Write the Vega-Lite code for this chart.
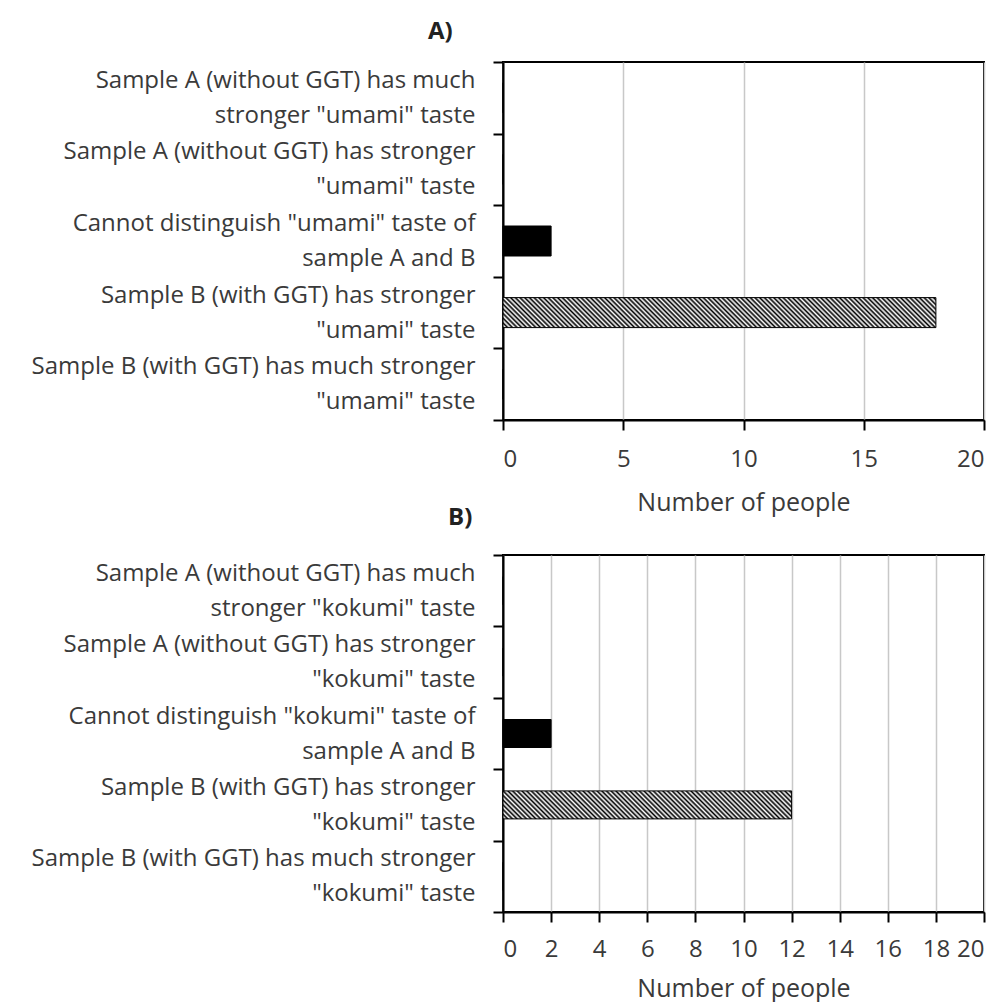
{
  "$schema": "https://vega.github.io/schema/vega-lite/v6.json",
  "background": "white",
  "padding": {"left": 30, "top": 19, "right": 5, "bottom": 0},
  "bounds": "flush",
  "spacing": 135,
  "config": {
    "font": "Open Sans",
    "view": {"stroke": "#000", "strokeWidth": 2},
    "axis": {
      "labelFont": "Open Sans", "labelFontSize": 24, "labelColor": "#3a3a3a",
      "titleFont": "Open Sans", "titleFontSize": 25, "titleFontWeight": "normal", "titleColor": "#3a3a3a",
      "domainColor": "#000", "domainWidth": 2, "tickColor": "#000", "tickWidth": 2, "tickSize": 10
    },
    "title": {"font": "Open Sans", "fontSize": 24, "fontWeight": "bold", "color": "#222"}
  },
  "vconcat": [
    {
      "width": 481, "height": 358,
      "title": {"text": "A)", "anchor": "start", "frame": "group", "dx": -75, "offset": 6},
      "data": {"values": [
        {"response": "Sample A (without GGT) has much|stronger \"umami\" taste", "people": 0},
        {"response": "Sample A (without GGT) has stronger|\"umami\" taste", "people": 0},
        {"response": "Cannot distinguish \"umami\" taste of|sample A and B", "people": 2},
        {"response": "Sample B (with GGT) has stronger|\"umami\" taste", "people": 18},
        {"response": "Sample B (with GGT) has much stronger|\"umami\" taste", "people": 0}
      ]},
      "mark": {"type": "bar", "height": 30, "stroke": "#000", "strokeWidth": 1},
      "encoding": {
        "y": {"field": "response", "type": "nominal", "sort": null,
          "scale": {"paddingInner": 0, "paddingOuter": 0},
          "axis": {"title": null, "labelExpr": "split(datum.label, '|')", "labelLineHeight": 35, "labelOffset": -17.5, "tickBand": "extent", "labelPadding": 18, "labelLimit": 600}},
        "x": {"field": "people", "type": "quantitative",
          "scale": {"domain": [0, 20], "nice": false},
          "axis": {"values": [0, 5, 10, 15, 20], "title": "Number of people", "grid": true, "gridColor": "#c8c8c8", "gridWidth": 1.5, "labelPadding": 17, "titlePadding": 19}},
        "fill": {
          "condition": {"test": "indexof(datum.response, 'Sample B (with GGT) has stronger') === 0",
            "value": {"gradient": "linear", "x1": 0, "y1": 1, "x2": 1.0803, "y2": 0.9252, "stops": [
{"offset":0,"color":"#000"},{"offset":0.005,"color":"#fff"},{"offset":0.01,"color":"#000"},{"offset":0.015,"color":"#fff"},{"offset":0.02,"color":"#000"},{"offset":0.025,"color":"#fff"},{"offset":0.03,"color":"#000"},{"offset":0.035,"color":"#fff"},{"offset":0.04,"color":"#000"},{"offset":0.045,"color":"#fff"},
{"offset":0.05,"color":"#000"},{"offset":0.055,"color":"#fff"},{"offset":0.06,"color":"#000"},{"offset":0.065,"color":"#fff"},{"offset":0.07,"color":"#000"},{"offset":0.075,"color":"#fff"},{"offset":0.08,"color":"#000"},{"offset":0.085,"color":"#fff"},{"offset":0.09,"color":"#000"},{"offset":0.095,"color":"#fff"},
{"offset":0.1,"color":"#000"},{"offset":0.105,"color":"#fff"},{"offset":0.11,"color":"#000"},{"offset":0.115,"color":"#fff"},{"offset":0.12,"color":"#000"},{"offset":0.125,"color":"#fff"},{"offset":0.13,"color":"#000"},{"offset":0.135,"color":"#fff"},{"offset":0.14,"color":"#000"},{"offset":0.145,"color":"#fff"},
{"offset":0.15,"color":"#000"},{"offset":0.155,"color":"#fff"},{"offset":0.16,"color":"#000"},{"offset":0.165,"color":"#fff"},{"offset":0.17,"color":"#000"},{"offset":0.175,"color":"#fff"},{"offset":0.18,"color":"#000"},{"offset":0.185,"color":"#fff"},{"offset":0.19,"color":"#000"},{"offset":0.195,"color":"#fff"},
{"offset":0.2,"color":"#000"},{"offset":0.205,"color":"#fff"},{"offset":0.21,"color":"#000"},{"offset":0.215,"color":"#fff"},{"offset":0.22,"color":"#000"},{"offset":0.225,"color":"#fff"},{"offset":0.23,"color":"#000"},{"offset":0.235,"color":"#fff"},{"offset":0.24,"color":"#000"},{"offset":0.245,"color":"#fff"},
{"offset":0.25,"color":"#000"},{"offset":0.255,"color":"#fff"},{"offset":0.26,"color":"#000"},{"offset":0.265,"color":"#fff"},{"offset":0.27,"color":"#000"},{"offset":0.275,"color":"#fff"},{"offset":0.28,"color":"#000"},{"offset":0.285,"color":"#fff"},{"offset":0.29,"color":"#000"},{"offset":0.295,"color":"#fff"},
{"offset":0.3,"color":"#000"},{"offset":0.305,"color":"#fff"},{"offset":0.31,"color":"#000"},{"offset":0.315,"color":"#fff"},{"offset":0.32,"color":"#000"},{"offset":0.325,"color":"#fff"},{"offset":0.33,"color":"#000"},{"offset":0.335,"color":"#fff"},{"offset":0.34,"color":"#000"},{"offset":0.345,"color":"#fff"},
{"offset":0.35,"color":"#000"},{"offset":0.355,"color":"#fff"},{"offset":0.36,"color":"#000"},{"offset":0.365,"color":"#fff"},{"offset":0.37,"color":"#000"},{"offset":0.375,"color":"#fff"},{"offset":0.38,"color":"#000"},{"offset":0.385,"color":"#fff"},{"offset":0.39,"color":"#000"},{"offset":0.395,"color":"#fff"},
{"offset":0.4,"color":"#000"},{"offset":0.405,"color":"#fff"},{"offset":0.41,"color":"#000"},{"offset":0.415,"color":"#fff"},{"offset":0.42,"color":"#000"},{"offset":0.425,"color":"#fff"},{"offset":0.43,"color":"#000"},{"offset":0.435,"color":"#fff"},{"offset":0.44,"color":"#000"},{"offset":0.445,"color":"#fff"},
{"offset":0.45,"color":"#000"},{"offset":0.455,"color":"#fff"},{"offset":0.46,"color":"#000"},{"offset":0.465,"color":"#fff"},{"offset":0.47,"color":"#000"},{"offset":0.475,"color":"#fff"},{"offset":0.48,"color":"#000"},{"offset":0.485,"color":"#fff"},{"offset":0.49,"color":"#000"},{"offset":0.495,"color":"#fff"},
{"offset":0.5,"color":"#000"},{"offset":0.505,"color":"#fff"},{"offset":0.51,"color":"#000"},{"offset":0.515,"color":"#fff"},{"offset":0.52,"color":"#000"},{"offset":0.525,"color":"#fff"},{"offset":0.53,"color":"#000"},{"offset":0.535,"color":"#fff"},{"offset":0.54,"color":"#000"},{"offset":0.545,"color":"#fff"},
{"offset":0.55,"color":"#000"},{"offset":0.555,"color":"#fff"},{"offset":0.56,"color":"#000"},{"offset":0.565,"color":"#fff"},{"offset":0.57,"color":"#000"},{"offset":0.575,"color":"#fff"},{"offset":0.58,"color":"#000"},{"offset":0.585,"color":"#fff"},{"offset":0.59,"color":"#000"},{"offset":0.595,"color":"#fff"},
{"offset":0.6,"color":"#000"},{"offset":0.605,"color":"#fff"},{"offset":0.61,"color":"#000"},{"offset":0.615,"color":"#fff"},{"offset":0.62,"color":"#000"},{"offset":0.625,"color":"#fff"},{"offset":0.63,"color":"#000"},{"offset":0.635,"color":"#fff"},{"offset":0.64,"color":"#000"},{"offset":0.645,"color":"#fff"},
{"offset":0.65,"color":"#000"},{"offset":0.655,"color":"#fff"},{"offset":0.66,"color":"#000"},{"offset":0.665,"color":"#fff"},{"offset":0.67,"color":"#000"},{"offset":0.675,"color":"#fff"},{"offset":0.68,"color":"#000"},{"offset":0.685,"color":"#fff"},{"offset":0.69,"color":"#000"},{"offset":0.695,"color":"#fff"},
{"offset":0.7,"color":"#000"},{"offset":0.705,"color":"#fff"},{"offset":0.71,"color":"#000"},{"offset":0.715,"color":"#fff"},{"offset":0.72,"color":"#000"},{"offset":0.725,"color":"#fff"},{"offset":0.73,"color":"#000"},{"offset":0.735,"color":"#fff"},{"offset":0.74,"color":"#000"},{"offset":0.745,"color":"#fff"},
{"offset":0.75,"color":"#000"},{"offset":0.755,"color":"#fff"},{"offset":0.76,"color":"#000"},{"offset":0.765,"color":"#fff"},{"offset":0.77,"color":"#000"},{"offset":0.775,"color":"#fff"},{"offset":0.78,"color":"#000"},{"offset":0.785,"color":"#fff"},{"offset":0.79,"color":"#000"},{"offset":0.795,"color":"#fff"},
{"offset":0.8,"color":"#000"},{"offset":0.805,"color":"#fff"},{"offset":0.81,"color":"#000"},{"offset":0.815,"color":"#fff"},{"offset":0.82,"color":"#000"},{"offset":0.825,"color":"#fff"},{"offset":0.83,"color":"#000"},{"offset":0.835,"color":"#fff"},{"offset":0.84,"color":"#000"},{"offset":0.845,"color":"#fff"},
{"offset":0.85,"color":"#000"},{"offset":0.855,"color":"#fff"},{"offset":0.86,"color":"#000"},{"offset":0.865,"color":"#fff"},{"offset":0.87,"color":"#000"},{"offset":0.875,"color":"#fff"},{"offset":0.88,"color":"#000"},{"offset":0.885,"color":"#fff"},{"offset":0.89,"color":"#000"},{"offset":0.895,"color":"#fff"},
{"offset":0.9,"color":"#000"},{"offset":0.905,"color":"#fff"},{"offset":0.91,"color":"#000"},{"offset":0.915,"color":"#fff"},{"offset":0.92,"color":"#000"},{"offset":0.925,"color":"#fff"},{"offset":0.93,"color":"#000"},{"offset":0.935,"color":"#fff"},{"offset":0.94,"color":"#000"},{"offset":0.945,"color":"#fff"},
{"offset":0.95,"color":"#000"},{"offset":0.955,"color":"#fff"},{"offset":0.96,"color":"#000"},{"offset":0.965,"color":"#fff"},{"offset":0.97,"color":"#000"},{"offset":0.975,"color":"#fff"},{"offset":0.98,"color":"#000"},{"offset":0.985,"color":"#fff"},{"offset":0.99,"color":"#000"},{"offset":0.995,"color":"#fff"},{"offset":1,"color":"#000"}
            ]}},
          "value": "#000"
        }
      }
    },
    {
      "width": 481, "height": 357,
      "title": {"text": "B)", "anchor": "start", "frame": "group", "dx": -55, "offset": 13},
      "data": {"values": [
        {"response": "Sample A (without GGT) has much|stronger \"kokumi\" taste", "people": 0},
        {"response": "Sample A (without GGT) has stronger|\"kokumi\" taste", "people": 0},
        {"response": "Cannot distinguish \"kokumi\" taste of|sample A and B", "people": 2},
        {"response": "Sample B (with GGT) has stronger|\"kokumi\" taste", "people": 12},
        {"response": "Sample B (with GGT) has much stronger|\"kokumi\" taste", "people": 0}
      ]},
      "mark": {"type": "bar", "height": 28, "stroke": "#000", "strokeWidth": 1},
      "encoding": {
        "y": {"field": "response", "type": "nominal", "sort": null,
          "scale": {"paddingInner": 0, "paddingOuter": 0},
          "axis": {"title": null, "labelExpr": "split(datum.label, '|')", "labelLineHeight": 35, "labelOffset": -17.5, "tickBand": "extent", "labelPadding": 18, "labelLimit": 600}},
        "x": {"field": "people", "type": "quantitative",
          "scale": {"domain": [0, 20], "nice": false},
          "axis": {"values": [0, 2, 4, 6, 8, 10, 12, 14, 16, 18, 20], "title": "Number of people", "grid": true, "gridColor": "#c8c8c8", "gridWidth": 1.5, "labelPadding": 15, "titlePadding": 15}},
        "fill": {
          "condition": {"test": "indexof(datum.response, 'Sample B (with GGT) has stronger') === 0",
            "value": {"gradient": "linear", "x1": 0, "y1": 1, "x2": 1.6112, "y2": 0.8439, "stops": [
{"offset":0,"color":"#000"},{"offset":0.005,"color":"#fff"},{"offset":0.01,"color":"#000"},{"offset":0.015,"color":"#fff"},{"offset":0.02,"color":"#000"},{"offset":0.025,"color":"#fff"},{"offset":0.03,"color":"#000"},{"offset":0.035,"color":"#fff"},{"offset":0.04,"color":"#000"},{"offset":0.045,"color":"#fff"},
{"offset":0.05,"color":"#000"},{"offset":0.055,"color":"#fff"},{"offset":0.06,"color":"#000"},{"offset":0.065,"color":"#fff"},{"offset":0.07,"color":"#000"},{"offset":0.075,"color":"#fff"},{"offset":0.08,"color":"#000"},{"offset":0.085,"color":"#fff"},{"offset":0.09,"color":"#000"},{"offset":0.095,"color":"#fff"},
{"offset":0.1,"color":"#000"},{"offset":0.105,"color":"#fff"},{"offset":0.11,"color":"#000"},{"offset":0.115,"color":"#fff"},{"offset":0.12,"color":"#000"},{"offset":0.125,"color":"#fff"},{"offset":0.13,"color":"#000"},{"offset":0.135,"color":"#fff"},{"offset":0.14,"color":"#000"},{"offset":0.145,"color":"#fff"},
{"offset":0.15,"color":"#000"},{"offset":0.155,"color":"#fff"},{"offset":0.16,"color":"#000"},{"offset":0.165,"color":"#fff"},{"offset":0.17,"color":"#000"},{"offset":0.175,"color":"#fff"},{"offset":0.18,"color":"#000"},{"offset":0.185,"color":"#fff"},{"offset":0.19,"color":"#000"},{"offset":0.195,"color":"#fff"},
{"offset":0.2,"color":"#000"},{"offset":0.205,"color":"#fff"},{"offset":0.21,"color":"#000"},{"offset":0.215,"color":"#fff"},{"offset":0.22,"color":"#000"},{"offset":0.225,"color":"#fff"},{"offset":0.23,"color":"#000"},{"offset":0.235,"color":"#fff"},{"offset":0.24,"color":"#000"},{"offset":0.245,"color":"#fff"},
{"offset":0.25,"color":"#000"},{"offset":0.255,"color":"#fff"},{"offset":0.26,"color":"#000"},{"offset":0.265,"color":"#fff"},{"offset":0.27,"color":"#000"},{"offset":0.275,"color":"#fff"},{"offset":0.28,"color":"#000"},{"offset":0.285,"color":"#fff"},{"offset":0.29,"color":"#000"},{"offset":0.295,"color":"#fff"},
{"offset":0.3,"color":"#000"},{"offset":0.305,"color":"#fff"},{"offset":0.31,"color":"#000"},{"offset":0.315,"color":"#fff"},{"offset":0.32,"color":"#000"},{"offset":0.325,"color":"#fff"},{"offset":0.33,"color":"#000"},{"offset":0.335,"color":"#fff"},{"offset":0.34,"color":"#000"},{"offset":0.345,"color":"#fff"},
{"offset":0.35,"color":"#000"},{"offset":0.355,"color":"#fff"},{"offset":0.36,"color":"#000"},{"offset":0.365,"color":"#fff"},{"offset":0.37,"color":"#000"},{"offset":0.375,"color":"#fff"},{"offset":0.38,"color":"#000"},{"offset":0.385,"color":"#fff"},{"offset":0.39,"color":"#000"},{"offset":0.395,"color":"#fff"},
{"offset":0.4,"color":"#000"},{"offset":0.405,"color":"#fff"},{"offset":0.41,"color":"#000"},{"offset":0.415,"color":"#fff"},{"offset":0.42,"color":"#000"},{"offset":0.425,"color":"#fff"},{"offset":0.43,"color":"#000"},{"offset":0.435,"color":"#fff"},{"offset":0.44,"color":"#000"},{"offset":0.445,"color":"#fff"},
{"offset":0.45,"color":"#000"},{"offset":0.455,"color":"#fff"},{"offset":0.46,"color":"#000"},{"offset":0.465,"color":"#fff"},{"offset":0.47,"color":"#000"},{"offset":0.475,"color":"#fff"},{"offset":0.48,"color":"#000"},{"offset":0.485,"color":"#fff"},{"offset":0.49,"color":"#000"},{"offset":0.495,"color":"#fff"},
{"offset":0.5,"color":"#000"},{"offset":0.505,"color":"#fff"},{"offset":0.51,"color":"#000"},{"offset":0.515,"color":"#fff"},{"offset":0.52,"color":"#000"},{"offset":0.525,"color":"#fff"},{"offset":0.53,"color":"#000"},{"offset":0.535,"color":"#fff"},{"offset":0.54,"color":"#000"},{"offset":0.545,"color":"#fff"},
{"offset":0.55,"color":"#000"},{"offset":0.555,"color":"#fff"},{"offset":0.56,"color":"#000"},{"offset":0.565,"color":"#fff"},{"offset":0.57,"color":"#000"},{"offset":0.575,"color":"#fff"},{"offset":0.58,"color":"#000"},{"offset":0.585,"color":"#fff"},{"offset":0.59,"color":"#000"},{"offset":0.595,"color":"#fff"},
{"offset":0.6,"color":"#000"},{"offset":0.605,"color":"#fff"},{"offset":0.61,"color":"#000"},{"offset":0.615,"color":"#fff"},{"offset":0.62,"color":"#000"},{"offset":0.625,"color":"#fff"},{"offset":0.63,"color":"#000"},{"offset":0.635,"color":"#fff"},{"offset":0.64,"color":"#000"},{"offset":0.645,"color":"#fff"},
{"offset":0.65,"color":"#000"},{"offset":0.655,"color":"#fff"},{"offset":0.66,"color":"#000"},{"offset":0.665,"color":"#fff"},{"offset":0.67,"color":"#000"},{"offset":0.675,"color":"#fff"},{"offset":0.68,"color":"#000"},{"offset":0.685,"color":"#fff"},{"offset":0.69,"color":"#000"}
            ]}},
          "value": "#000"
        }
      }
    }
  ]
}
